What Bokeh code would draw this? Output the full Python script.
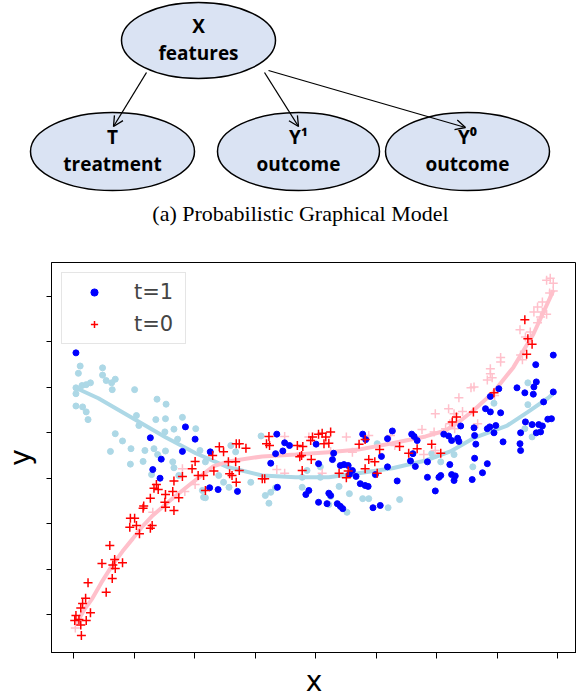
from bokeh.plotting import figure
from bokeh.layouts import column, row
from bokeh.models import (Range1d, FixedTicker, Legend, LegendItem, Arrow, OpenHead,
                          ColumnDataSource)
from bokeh.core.properties import value
from bokeh.embed import file_html
from bokeh.resources import INLINE

# ---------------- graphical model (top) ----------------
node_symbols = ["X", "T", "Y\u00b9", "Y\u2070"]
node_names = ["features", "treatment", "outcome", "outcome"]
caption = "(a) Probabilistic Graphical Model"

# ---------------- scatter data (bottom) ----------------
x_ticks = [0, 1, 2, 3, 4, 5, 6, 7, 8]
y_ticks = [0, 1, 2, 3, 4, 5, 6, 7]

# counterfactual Y1 (light blue dots)
y1_cf_x = [0.11, 0.08, 0.48, 0.48, 0.54, 0.69, 0.63, 0.64, 0.14, 0.21, 0.28, 0.04, 0.04, 0.04,
           0.15, 0.21, 0.24, 1.01, 1.38, 1.53, 1.04, 1.08, 1.36, 1.52, 1.80, 1.51, 1.66, 0.69,
           0.81, 1.72, 0.61, 0.95, 1.18, 1.33, 1.39, 1.52, 0.94, 1.15, 1.64, 1.66, 2.09, 1.29,
           1.74, 2.13, 2.15, 2.02, 2.18, 2.60, 2.68, 2.40, 2.48, 2.57, 2.18, 2.93, 3.17, 3.26,
           3.34, 3.23, 3.78, 3.78, 4.08, 4.08, 4.25, 3.86, 5.02, 4.39, 4.56, 4.78, 4.88, 5.20,
           5.39, 4.52, 4.22, 6.07, 5.92, 7.51, 7.51, 7.46, 7.58, 6.29, 6.60, 3.10, 6.95]
y1_cf_y = [5.47, 5.31, 5.43, 5.27, 5.15, 5.18, 5.10, 4.95, 5.04, 5.06, 5.10, 4.99, 4.86, 4.59,
           4.57, 4.46, 4.29, 4.95, 4.74, 4.63, 4.38, 4.16, 4.29, 4.31, 4.34, 4.02, 4.08, 3.98,
           3.82, 3.86, 3.59, 3.65, 3.61, 3.65, 3.52, 3.60, 3.31, 3.37, 3.36, 3.23, 3.61, 3.08,
           3.06, 2.73, 2.58, 4.09, 3.36, 3.72, 3.58, 3.06, 2.91, 2.80, 2.57, 2.91, 2.62, 2.69,
           2.79, 2.45, 3.02, 2.80, 3.25, 3.02, 2.60, 3.17, 3.76, 2.82, 2.66, 2.55, 2.55, 2.35,
           2.53, 2.25, 2.42, 3.36, 3.54, 5.10, 4.62, 4.09, 3.91, 3.52, 3.25, 3.93, 4.65]

# observed t=1 (blue dots)
t1_x = [0.04, 1.85, 2.01, 1.27, 1.80, 1.45, 1.31, 1.43, 2.26, 3.36, 3.49, 3.57, 3.34, 3.46,
        3.26, 2.39, 2.25, 2.71, 3.37, 3.89, 3.84, 4.05, 4.19, 4.01, 4.05, 4.78, 4.83, 5.27,
        5.19, 5.59, 5.63, 5.61, 5.68, 4.30, 4.28, 4.41, 4.47, 4.54, 4.61, 4.56, 4.67, 4.74,
        4.82, 4.87, 4.99, 5.09, 5.19, 5.35, 5.57, 5.65, 5.85, 5.85, 6.04, 5.98, 6.22, 6.25,
        6.29, 6.12, 4.22, 4.25, 4.36, 4.41, 4.45, 4.95, 5.07, 6.25, 7.93, 7.64, 7.65, 7.61,
        7.33, 7.46, 7.60, 7.03, 6.89, 7.93, 7.77, 6.81, 6.89, 7.06, 6.84, 6.88, 6.95, 6.98,
        6.62, 6.40, 6.63, 6.65, 6.20, 6.35, 6.37, 7.10, 7.47, 7.58, 7.69, 7.75, 7.72, 7.65,
        7.84, 7.90, 7.39, 7.38, 7.39, 6.63, 6.84, 6.76, 6.31, 6.59, 6.07]
t1_y = [5.76, 4.13, 3.86, 3.89, 3.59, 3.42, 3.19, 3.00, 3.58, 3.97, 3.78, 3.72, 3.54, 3.60,
        3.33, 2.75, 2.79, 2.71, 2.80, 2.73, 2.64, 2.47, 2.44, 3.75, 3.32, 3.97, 3.85, 4.04,
        3.87, 3.97, 3.92, 3.54, 3.83, 3.55, 3.41, 3.28, 3.30, 3.28, 3.17, 3.08, 3.04, 2.88,
        2.84, 2.82, 3.08, 3.48, 3.25, 2.94, 3.38, 3.26, 3.36, 3.02, 3.02, 2.72, 3.30, 3.08,
        2.95, 3.97, 2.67, 2.62, 2.44, 2.38, 2.33, 2.35, 2.40, 3.83, 5.71, 5.50, 5.12, 5.01,
        4.99, 4.88, 4.85, 4.97, 4.80, 4.90, 4.68, 4.53, 4.46, 4.44, 4.09, 4.13, 4.00, 4.16,
        4.11, 4.15, 3.94, 3.75, 3.93, 3.88, 3.81, 3.80, 4.24, 4.18, 4.18, 4.15, 4.02, 4.00,
        4.30, 4.31, 4.00, 3.76, 3.61, 3.44, 3.32, 3.12, 3.05, 2.97, 3.06]

# observed t=0 (red crosses)
t0_x = [2.01, 1.96, 1.80, 1.66, 1.37, 1.33, 1.40, 1.64, 1.74, 1.52, 1.27, 1.51, 1.16, 1.15,
        1.52, 1.66, 0.94, 1.01, 0.93, 1.04, 1.09, 1.30, 1.27, 0.60, 0.68, 0.47, 0.65, 0.81,
        0.69, 0.64, 0.24, 0.54, 0.20, 0.15, 0.28, 0.12, 0.04, 0.09, 0.02, 0.21, 0.12, 0.13,
        2.18, 2.06, 2.15, 2.32, 2.30, 2.41, 2.48, 2.56, 2.68, 2.69, 2.74, 2.85, 2.58, 2.74,
        2.62, 2.69, 3.12, 3.16, 3.23, 3.19, 3.24, 3.70, 3.79, 3.77, 3.74, 3.93, 3.78, 3.92,
        3.95, 4.05, 4.11, 4.17, 4.14, 4.25, 4.22, 4.72, 4.82, 5.06, 5.39, 4.88, 4.98, 4.82,
        5.02, 4.39, 4.54, 4.51, 5.54, 5.68, 5.92, 6.07, 6.26, 6.33, 7.46, 7.51, 7.58, 7.49,
        6.95, 6.61]
t0_y = [3.37, 3.21, 3.04, 2.94, 2.86, 2.78, 2.75, 2.71, 2.57, 2.64, 2.56, 2.47, 2.39, 2.34,
        2.36, 2.29, 2.12, 2.12, 1.92, 1.96, 1.78, 1.96, 1.90, 1.52, 1.21, 1.12, 1.09, 1.14,
        1.01, 0.79, 0.70, 0.49, 0.36, 0.24, 0.04, 0.14, -0.02, -0.11, -0.13, -0.13, -0.23, -0.46,
        2.73, 3.06, 3.06, 3.16, 3.50, 3.69, 3.58, 3.36, 3.36, 3.76, 3.76, 3.66, 3.10, 3.17,
        3.06, 2.91, 2.99, 2.99, 3.92, 3.76, 3.72, 3.72, 3.70, 3.50, 3.47, 3.41, 3.17, 3.83,
        3.91, 3.97, 3.99, 3.91, 3.76, 4.02, 3.77, 3.75, 3.85, 3.63, 3.70, 3.41, 3.36, 3.21,
        3.11, 3.11, 3.16, 3.01, 3.55, 3.65, 3.75, 3.55, 4.24, 4.35, 6.49, 6.07, 5.95, 5.73,
        4.88, 4.46]

# counterfactual Y0 (pink crosses)
y0_cf_x = [1.80, 1.84, 2.01, 1.31, 0.03, 3.49, 3.36, 3.49, 3.89, 4.11, 4.51, 4.88, 5.24, 5.31,
           5.76, 5.96, 5.98, 5.79, 6.20, 6.29, 5.98, 7.88, 7.82, 7.93, 7.87, 7.93, 7.75, 7.67,
           7.61, 7.75, 7.82, 7.72, 7.67, 7.38, 7.55, 7.47, 7.39, 7.42, 7.06, 7.06, 6.89, 6.89,
           6.84, 6.92, 6.62, 6.57, 6.37, 6.96, 6.22, 6.30, 6.15, 6.43, 6.68, 4.61, 4.25]
y0_cf_y = [3.21, 2.71, 2.86, 2.25, -0.30, 3.92, 3.19, 3.11, 3.91, 3.11, 3.91, 3.94, 3.94, 3.72,
           4.07, 4.02, 3.61, 3.52, 4.53, 4.42, 4.42, 7.40, 7.36, 7.29, 7.08, 7.12, 6.88, 6.77,
           6.66, 6.66, 6.61, 6.55, 6.42, 6.27, 6.22, 6.11, 5.71, 5.61, 5.66, 5.56, 5.41, 5.30,
           5.16, 5.21, 5.01, 4.99, 4.77, 4.82, 4.20, 4.09, 4.09, 4.47, 4.20, 3.57, 3.59]

# fitted outcome curves
curve1_x = [0.05, 0.41, 0.98, 1.52, 2.02, 2.56, 3.12, 3.67, 4.22, 4.71, 5.27, 5.82, 6.23,
            6.61, 7.17, 7.50, 7.84, 7.97]
curve1_y = [4.98, 4.76, 4.32, 3.90, 3.55, 3.24, 3.06, 3.02, 3.02, 3.11, 3.22, 3.39, 3.59,
            3.88, 4.16, 4.45, 4.76, 4.91]
curve0_x = [0.03, 0.17, 0.31, 0.46, 0.64, 0.81, 0.98, 1.14, 1.31, 1.64, 1.97, 2.31, 2.56,
            3.12, 3.67, 4.22, 4.71, 5.27, 5.82, 6.15, 6.40, 6.61, 6.94, 7.27, 7.60, 7.88, 7.93]
curve0_y = [-0.24, 0.09, 0.35, 0.70, 1.08, 1.39, 1.67, 1.94, 2.18, 2.56, 2.91, 3.26, 3.37,
            3.48, 3.52, 3.57, 3.63, 3.77, 3.92, 4.05, 4.27, 4.49, 4.89, 5.44, 6.17, 6.98, 7.14]

# ================= top figure: graphical model =================
TOP_W, TOP_H = 576, 232
top = figure(width=TOP_W, height=TOP_H, x_range=Range1d(0, TOP_W),
             y_range=Range1d(TOP_H, 0),
             output_backend="svg", toolbar_location=None,
             x_axis_location=None, y_axis_location=None,
             min_border=0, min_border_left=0, min_border_right=0,
             min_border_top=0, min_border_bottom=0)
top.grid.visible = False
top.outline_line_color = None

node_cx = [198, 112, 298, 467]
node_cy = [40, 151, 151, 151]
node_w = [154, 164, 162, 164]
node_h = [76, 78, 78, 78]
src_nodes = ColumnDataSource(dict(x=node_cx, y=node_cy, w=node_w, h=node_h,
                                  sym=node_symbols, name=node_names,
                                  ys=[c - 15 for c in node_cy],
                                  yn=[c + 12 for c in node_cy]))
top.ellipse(x="x", y="y", width="w", height="h", source=src_nodes,
            fill_color="#dae3f3", line_color="black", line_width=1.5)
top.text(x="x", y="ys", text="sym", source=src_nodes, text_align="center",
         text_baseline="middle", text_font=value("Open Sans"), text_font_style="bold",
         text_font_size="19px", text_color="black")
top.text(x="x", y="yn", text="name", source=src_nodes, text_align="center",
         text_baseline="middle", text_font=value("Open Sans"), text_font_style="bold",
         text_font_size="19px", text_color="black")

arrow_pts = [((146, 72), (113, 126)), ((264, 72), (298, 126)), ((268, 70), (465, 127))]
for (xs, ys), (xe, ye) in arrow_pts:
    top.add_layout(Arrow(end=OpenHead(size=10, line_width=1.3, line_color="black"),
                         x_start=xs, y_start=ys, x_end=xe, y_end=ye,
                         line_width=1.3, line_color="black"))

top.text(x=[300], y=[213], text=[caption], text_align="center", text_baseline="middle",
         text_font=value("Liberation Serif"), text_font_size="22px", text_color="black")

# ================= bottom figure: scatter =================
p = figure(width=576, height=468, x_range=Range1d(-0.364, 8.314),
           y_range=Range1d(-0.837, 7.749), output_backend="svg", toolbar_location=None,
           min_border_left=51, min_border_right=0,
           min_border_top=30, min_border_bottom=48)
p.grid.visible = False
p.outline_line_color = "black"
p.outline_line_width = 1

p.xaxis.ticker = FixedTicker(ticks=x_ticks)
p.yaxis.ticker = FixedTicker(ticks=y_ticks)
p.xaxis.major_label_overrides = {t: "" for t in x_ticks}
p.yaxis.major_label_overrides = {t: "" for t in y_ticks}
for ax in (p.xaxis, p.yaxis):
    ax.major_label_standoff = 0
    ax.major_label_text_font_size = "1px"
    ax.minor_tick_line_color = None
    ax.major_tick_in = 0
    ax.axis_line_color = "black"
    ax.major_tick_line_color = "black"
    ax.axis_label_text_font = "DejaVu Sans"
    ax.axis_label_text_font_size = "28px"
    ax.axis_label_text_font_style = "normal"
    ax.axis_label_text_color = "black"
p.xaxis.major_tick_out = 6
p.yaxis.major_tick_out = 5
p.xaxis.axis_label = "x"
p.yaxis.axis_label = "y"
p.xaxis.axis_label_standoff = 6
p.yaxis.axis_label_standoff = 10

p.scatter(y1_cf_x, y1_cf_y, marker="circle", size=6, fill_color="lightblue",
          line_color="lightblue")
p.scatter(y0_cf_x, y0_cf_y, marker="cross", size=9, line_color="pink", line_width=1.5)
p.line(curve1_x, curve1_y, line_color="lightblue", line_width=4)
p.line(curve0_x, curve0_y, line_color="pink", line_width=4)
r_blue = p.scatter(t1_x, t1_y, marker="circle", size=6, fill_color="blue", line_color="blue")
r_red = p.scatter(t0_x, t0_y, marker="cross", size=9, line_color="red", line_width=1.5)

legend = Legend(items=[LegendItem(label="t=1", renderers=[r_blue]),
                       LegendItem(label="t=0", renderers=[r_red])],
                location="top_left", margin=10, padding=6, spacing=6,
                glyph_width=52, glyph_height=18, label_height=26, label_width=45,
                label_standoff=14,
                label_text_font="DejaVu Sans", label_text_font_size="21px",
                border_line_color="#cccccc", border_line_width=1,
                background_fill_alpha=0.8)
p.add_layout(legend)

# wrap each figure in its own row so the column does not align their frames
layout = column(row(top), row(p))
open("out.html", "w").write(file_html(layout, INLINE))
